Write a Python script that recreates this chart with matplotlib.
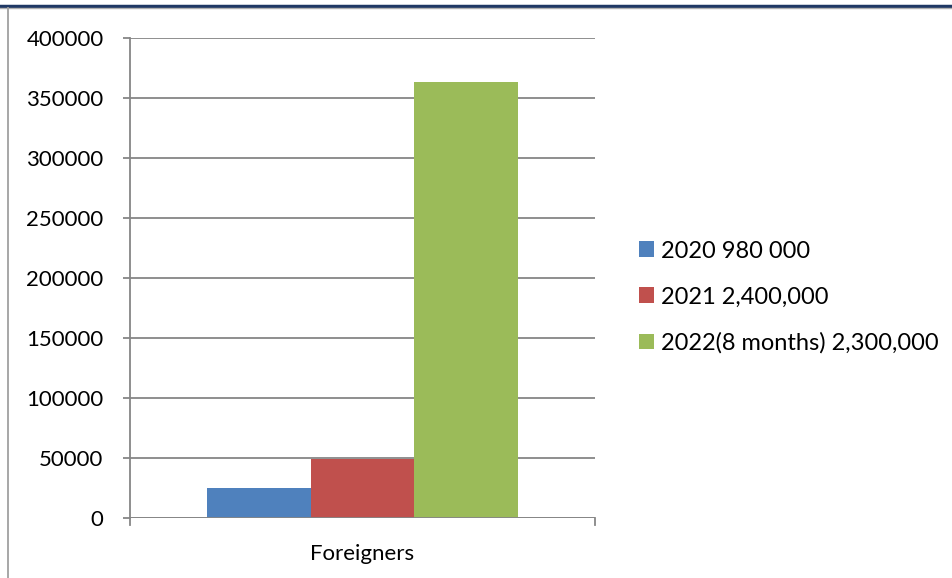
import numpy as np
import matplotlib.pyplot as plt
from matplotlib.lines import Line2D

plt.rcParams['font.family'] = ['Lato', 'DejaVu Sans']

category = ['Foreigners']
series_names = ['2020 980 000', '2021 2,400,000', '2022(8 months) 2,300,000']
series_values = [25000, 49000, 363000]
colors = ['#4f81bd', '#c0504d', '#9bbb59']

fig = plt.figure(figsize=(9.53, 5.78), dpi=100)
ax = fig.add_axes([130 / 953, 60 / 578, 465 / 953, 480 / 578])

width = 0.2225
offsets = (np.arange(len(series_values)) - 1) * width
for off, val, name, col in zip(offsets, series_values, series_names, colors):
    ax.bar(off, val, width=width, color=col, label=name, zorder=3)

ax.set_xlim(-0.5, 0.5)
ax.set_ylim(0, 400000)
ax.set_yticks(np.arange(0, 400001, 50000))
ax.yaxis.grid(True, color='#868686', linewidth=1.3, zorder=0)
ax.tick_params(axis='y', length=5, width=1.3, color='#868686', labelsize=16, pad=14)
ax.set_xticks([0])
ax.set_xticklabels(category, fontsize=16)
ax.tick_params(axis='x', length=0, pad=19)
# boundary ticks on the category axis
for xv in (-0.5, 0.5):
    ax.plot([xv, xv], [0, -6000], color='#868686', lw=1.3, clip_on=False)
for side in ('top', 'right', 'bottom'):
    ax.spines[side].set_visible(False)
ax.spines['left'].set_color('#868686')
ax.spines['left'].set_linewidth(1.3)
ax.axhline(0, color='#868686', lw=1.3, zorder=4)

ax.legend(loc='center left', bbox_to_anchor=(1.0, 0.46), frameon=False,
          fontsize=17, handlelength=0.65, handleheight=0.65, handletextpad=0.3,
          labelspacing=1.05, borderaxespad=1.45)

# page border lines
fig.add_artist(Line2D([0, 1], [1 - 6 / 578, 1 - 6 / 578], color='#1f3864', lw=2.5))
fig.add_artist(Line2D([0, 1], [1 - 8 / 578, 1 - 8 / 578], color='#b0b0b0', lw=1))
fig.add_artist(Line2D([8 / 953, 8 / 953], [0, 1 - 8 / 578], color='#a0a0a0', lw=1.3))

fig.savefig('out.png', dpi=100)
